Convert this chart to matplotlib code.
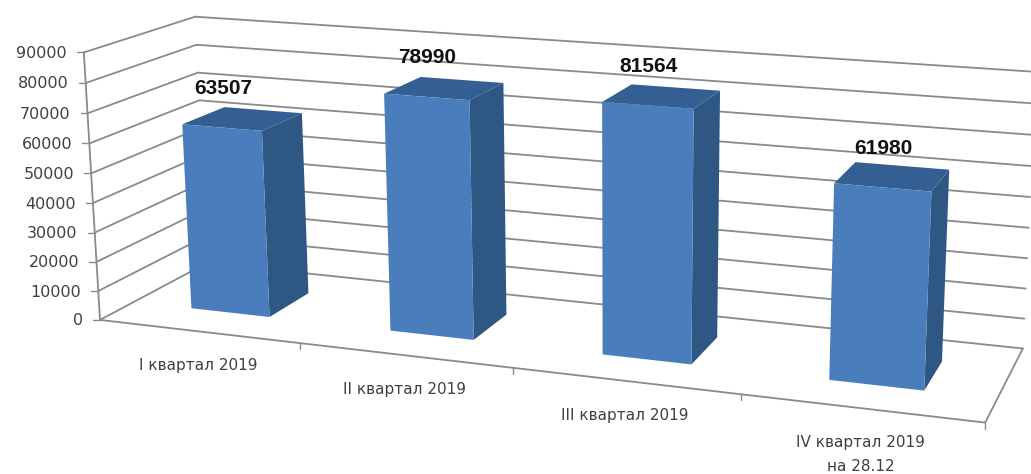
import numpy as np
import matplotlib
matplotlib.use("Agg")
import matplotlib.pyplot as plt
from matplotlib.patches import Polygon

# Values
categories = ["I квартал 2019", "II квартал 2019", "III квартал 2019", "IV квартал 2019\nна 28.12"]
values = [63507, 78990, 81564, 61980]
y_ticks = [0, 10000, 20000, 30000, 40000, 50000, 60000, 70000, 80000, 90000]
y_max = 90000

W, H = 1031, 474

# corners of the 3D box: (category pos, depth, height share) -> pixel in the picture
corners_box = [(0, 0, 0), (0, 0, 1), (0, 1, 0), (0, 1, 1), (4, 0, 0), (4, 1, 0), (4, 1, 1)]
corners_px = [(100, 320), (84, 52), (207, 263), (195, 17), (985, 423), (1023, 348), (1036, 72)]


def fit_projection(box, px):
    rows = []
    for (a, b, c), (x, y) in zip(box, px):
        rows.append([a, b, c, 1, 0, 0, 0, 0, -x * a, -x * b, -x * c, -x])
        rows.append([0, 0, 0, 0, a, b, c, 1, -y * a, -y * b, -y * c, -y])
    return np.linalg.svd(np.array(rows, dtype=float))[2][-1].reshape(3, 4)


P = fit_projection(corners_box, corners_px)


def proj(u, v, val):
    p = P @ np.array([u, v, val / y_max, 1.0])
    return p[0] / p[2], p[1] / p[2]


fig = plt.figure(figsize=(W / 100, H / 100), dpi=100)
ax = fig.add_axes([0, 0, 1, 1])
ax.set_xlim(0, W)
ax.set_ylim(H, 0)
ax.axis("off")

grid = "#8a8a8a"
n = len(categories)


def line(a, b, lw=1.3):
    ax.plot(*zip(a, b), color=grid, lw=lw, solid_capstyle="round", zorder=1)


# walls
for t in y_ticks:
    line(proj(0, 0, t), proj(0, 1, t))
    line(proj(0, 1, t), proj(n, 1, t))
    x, y = proj(0, 0, t)
    line((x - 7, y), (x, y), lw=1.0)
    ax.text(x - 17, y + 1, str(t), ha="right", va="center", fontsize=11.5, color="#404040", family="DejaVu Sans")

# axes and floor
line(proj(0, 0, 0), proj(0, 0, y_max))
line(proj(0, 0, 0), proj(n, 0, 0))
line(proj(n, 0, 0), proj(n, 1, 0))
for i in range(1, n + 1):
    x, y = proj(i, 0, 0)
    line((x, y), (x, y + 6), lw=1.0)

# bars
front_col = "#4a7dbb"
side_col = "#2f5783"
top_col = "#345f92"
for i, val in enumerate(values):
    u0, u1 = i + 0.3, i + 0.7
    v0, v1 = 0.3, 0.7
    ax.add_patch(Polygon([proj(u1, v0, 0), proj(u1, v1, 0), proj(u1, v1, val), proj(u1, v0, val)], color=side_col, lw=0, zorder=3))
    ax.add_patch(Polygon([proj(u0, v0, val), proj(u1, v0, val), proj(u1, v1, val), proj(u0, v1, val)], color=top_col, lw=0, zorder=3))
    ax.add_patch(Polygon([proj(u0, v0, 0), proj(u1, v0, 0), proj(u1, v0, val), proj(u0, v0, val)], color=front_col, lw=0, zorder=4))
    x, y = proj(i + 0.5, 0.3, val)
    ax.text(x + 1, y - 39, str(val), ha="center", va="center", fontsize=15, fontweight="bold", color="#111111", family="Liberation Sans", zorder=5)

# category labels
for i, cat in enumerate(categories):
    x, y = proj(i + 0.5, 0, 0)
    ax.text(x, y + 27, cat, ha="center", va="top", fontsize=11, color="#404040", family="DejaVu Sans", linespacing=1.75)

fig.savefig("out.png", dpi=100)
